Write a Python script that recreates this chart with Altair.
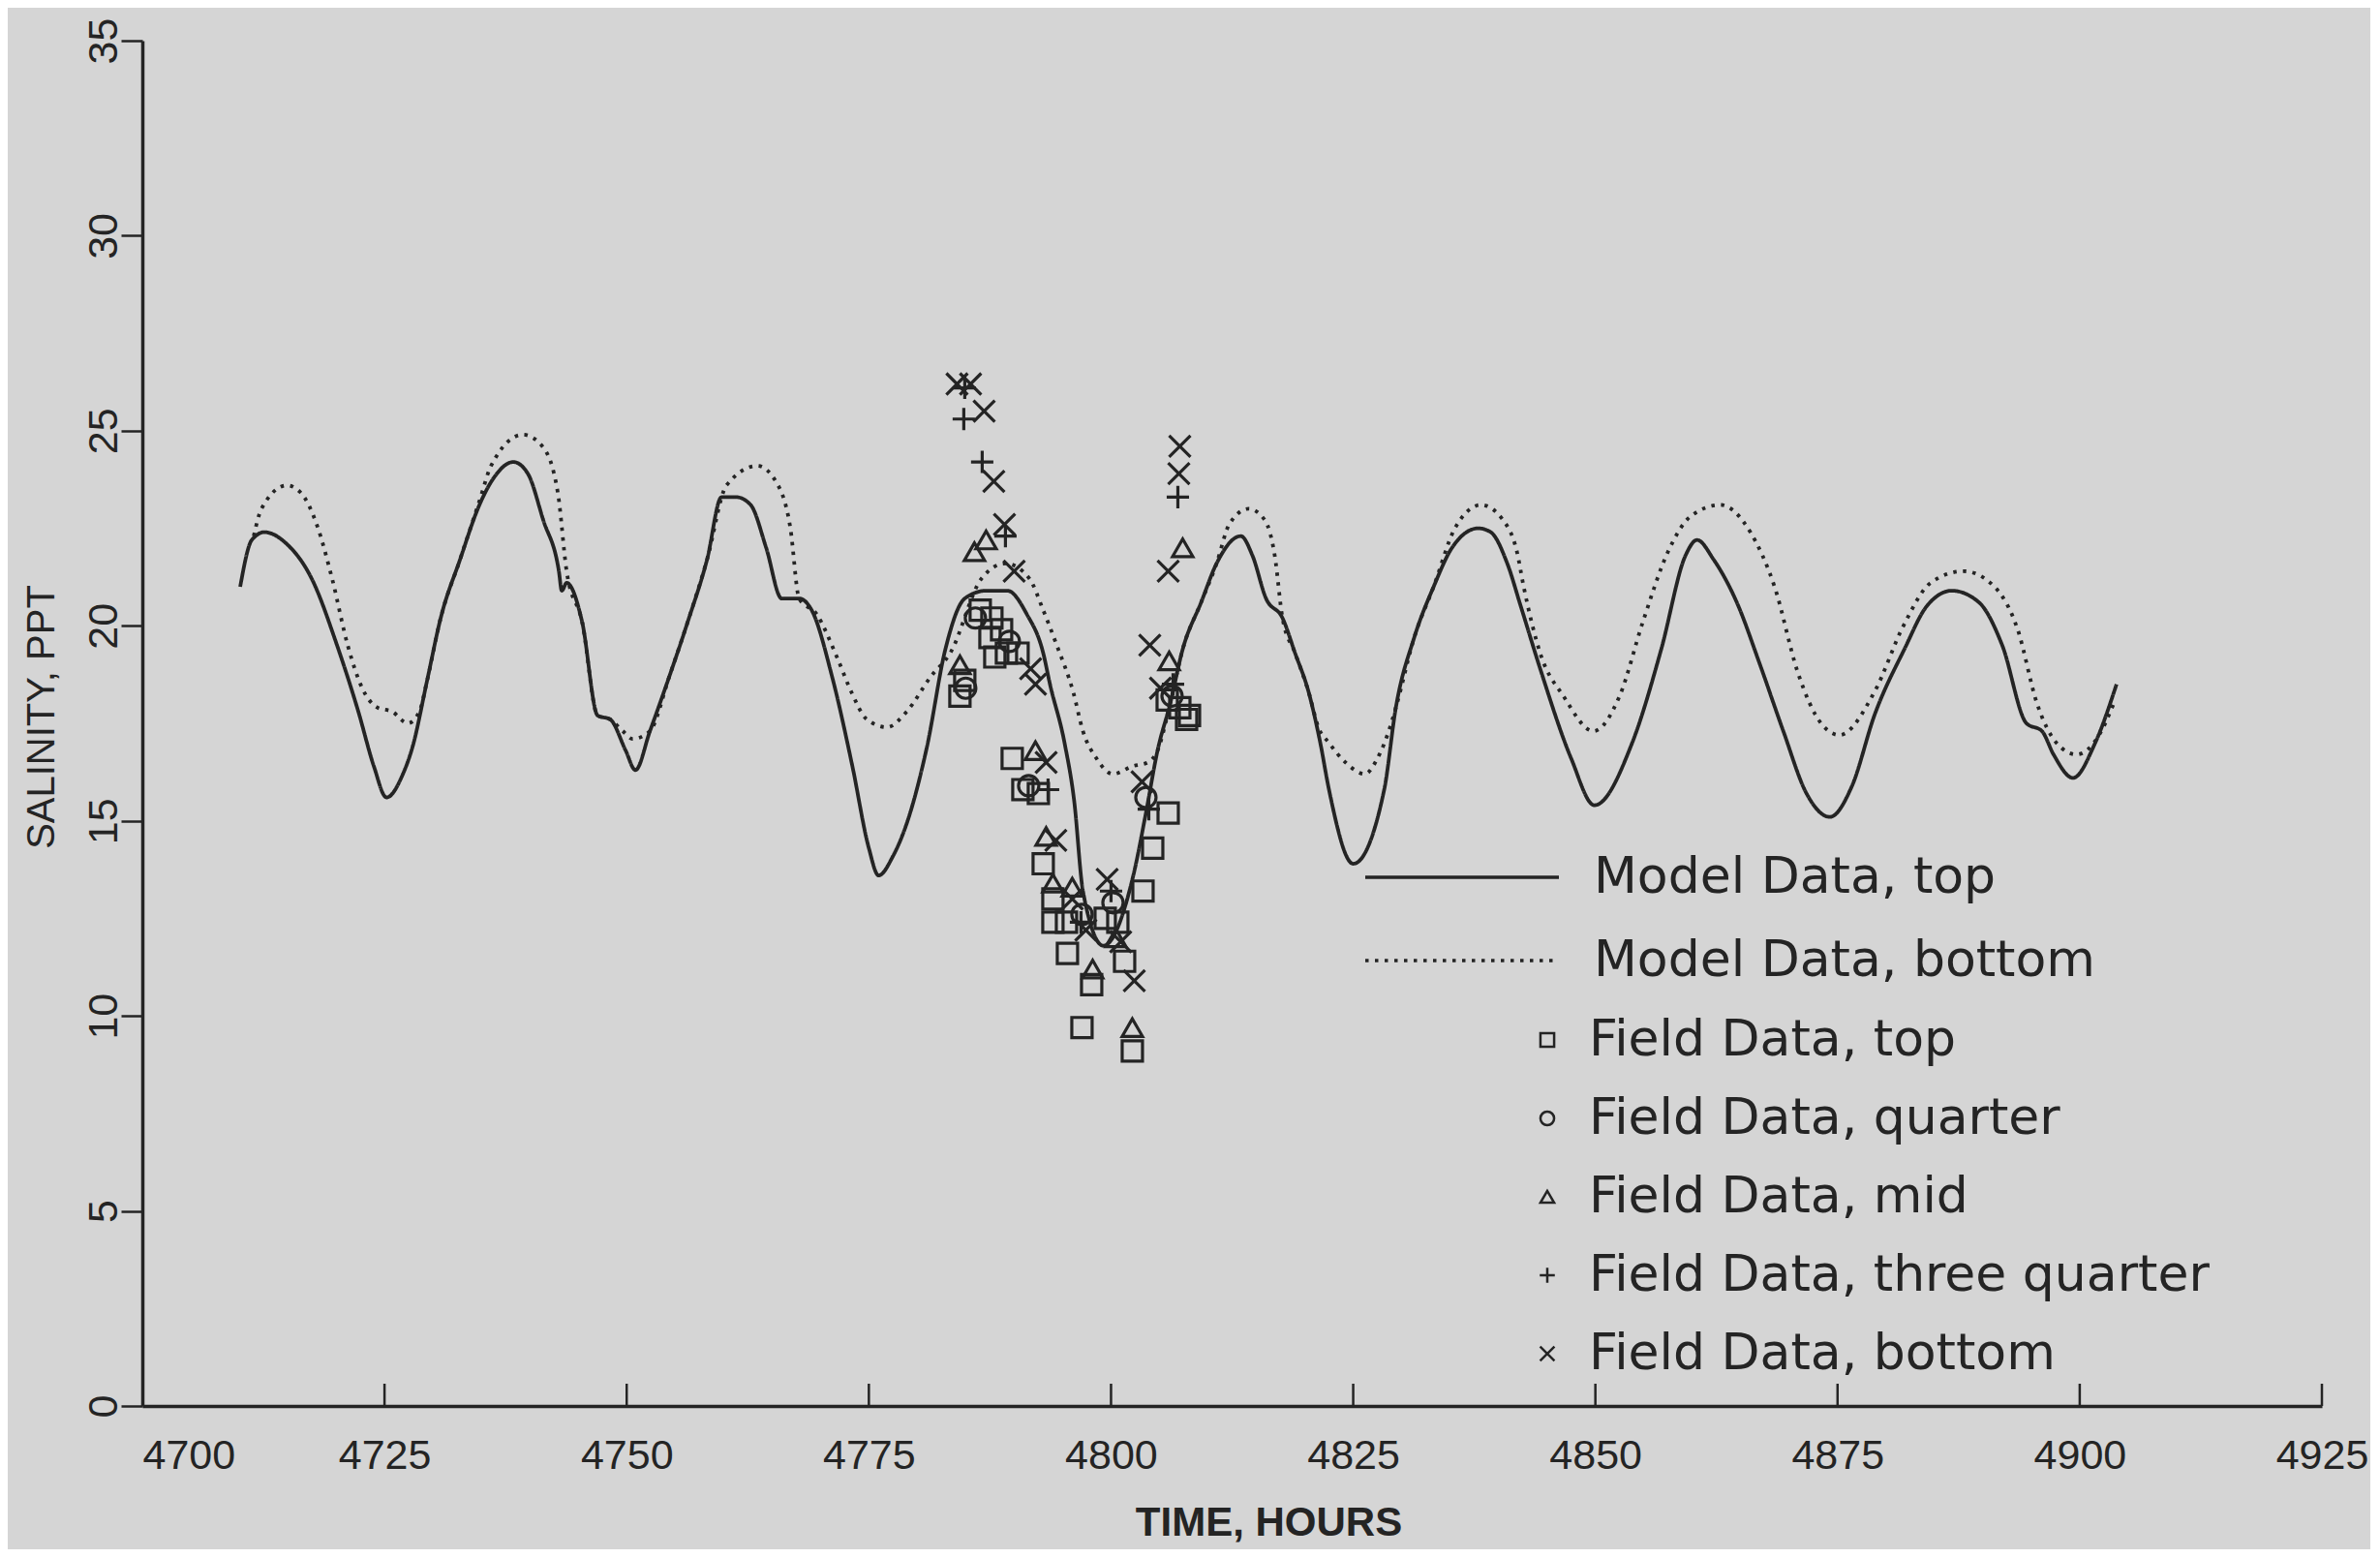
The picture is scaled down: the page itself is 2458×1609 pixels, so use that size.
import altair as alt
import pandas as pd

# ---------------- data ----------------
top_t = [4710.1, 4711.3, 4712.6, 4714.9, 4717.5, 4720.1, 4722.3, 4723.9, 4725.2, 4726.9,
         4727.9, 4729.4, 4730.8, 4732.8, 4734.8, 4736.3, 4738.3, 4739.8, 4741.4, 4743.0,
         4743.3, 4743.8, 4745.4, 4747.0, 4748.3, 4749.9, 4750.9, 4752.4, 4754.4, 4756.3,
         4758.3, 4759.8, 4761.3, 4762.8, 4764.4, 4766.0, 4767.8, 4769.1, 4771.2, 4773.3,
         4775.0, 4776.0, 4777.5, 4779.0, 4781.0, 4782.9, 4784.9, 4787.1, 4789.3, 4791.3,
         4793.0, 4793.7, 4795.2, 4796.2, 4797.1, 4799.2, 4802.3, 4803.6, 4804.8, 4806.1,
         4807.4, 4809.3, 4810.9, 4813.4, 4814.6, 4816.0, 4817.7, 4819.0, 4820.4, 4821.6,
         4822.5, 4825.0, 4828.2, 4829.4, 4831.3, 4833.3, 4835.2, 4837.9, 4839.2, 4840.9,
         4842.3, 4844.3, 4847.5, 4849.9, 4853.8, 4856.8, 4859.3, 4860.5, 4862.2, 4864.6,
         4867.0, 4869.4, 4871.8, 4874.2, 4876.5, 4878.8, 4881.9, 4884.2, 4886.8, 4889.6,
         4892.0, 4894.5, 4896.1, 4897.3, 4899.3, 4901.6, 4903.8]
top_v = [21.0, 22.2, 22.4, 22.1, 21.2, 19.5, 17.8, 16.4, 15.6, 16.2,
         16.9, 18.6, 20.2, 21.7, 23.1, 23.8, 24.2, 23.9, 22.7, 21.4,
         20.9, 21.1, 20.1, 17.7, 17.6, 16.8, 16.3, 17.3, 18.7, 20.1,
         21.7, 23.3, 23.3, 23.1, 22.0, 20.7, 20.7, 20.4, 18.7, 16.4,
         14.3, 13.6, 14.1, 15.0, 16.9, 19.4, 20.7, 20.9, 20.9, 20.3,
         19.3, 18.5, 17.0, 15.5, 13.2, 11.8, 13.6, 15.2, 16.8, 18.0,
         19.4, 20.6, 21.6, 22.3, 21.8, 20.7, 20.2, 19.3, 18.3, 17.0,
         15.8, 13.9, 15.8, 17.9, 19.7, 21.0, 22.0, 22.5, 22.4, 21.6,
         20.5, 18.9, 16.6, 15.4, 17.0, 19.4, 21.8, 22.2, 21.7, 20.6,
         19.0, 17.3, 15.7, 15.1, 15.9, 17.7, 19.4, 20.5, 20.9, 20.6,
         19.5, 17.5, 17.3, 16.7, 16.1, 17.0, 18.5]

bot_t = [4711.5, 4712.3, 4714.9, 4716.4, 4718.0, 4719.6, 4721.2, 4722.7, 4724.3, 4725.8,
         4727.4, 4728.6, 4729.4, 4730.8, 4732.8, 4734.8, 4736.0, 4739.3, 4741.3, 4742.9,
         4743.8, 4745.4, 4747.0, 4748.3, 4749.6, 4750.6, 4752.4, 4754.4, 4756.3, 4758.3,
         4760.3, 4763.5, 4765.4, 4766.9, 4767.8, 4769.6, 4771.7, 4773.2, 4774.8, 4776.9,
         4778.9, 4781.4, 4783.4, 4786.6, 4789.1, 4791.6, 4793.0, 4794.4, 4796.1, 4797.1,
         4798.5, 4800.2, 4802.2, 4803.8, 4804.8, 4806.1, 4807.4, 4809.3, 4810.9, 4812.2,
         4814.2, 4815.9, 4816.9, 4817.7, 4819.0, 4820.4, 4821.4, 4822.5, 4824.2, 4826.2,
         4827.5, 4828.8, 4829.4, 4831.3, 4833.3, 4835.5, 4838.2, 4840.5, 4841.9, 4842.6,
         4844.3, 4846.7, 4849.8, 4852.5, 4854.9, 4857.5, 4859.8, 4862.9, 4866.0, 4868.5,
         4870.9, 4873.3, 4875.2, 4878.8, 4881.8, 4884.6, 4888.0, 4891.2, 4893.6, 4895.6,
         4897.6, 4899.7, 4902.0, 4903.5]
bot_v = [22.3, 23.0, 23.6, 23.4, 22.6, 21.2, 19.5, 18.4, 17.9, 17.8,
         17.5, 17.8, 18.6, 20.2, 21.7, 23.2, 24.1, 24.9, 24.6, 23.4,
         21.4, 20.1, 17.7, 17.6, 17.3, 17.1, 17.3, 18.7, 20.1, 21.7,
         23.6, 24.1, 23.7, 22.5, 20.7, 20.3, 19.2, 18.3, 17.6, 17.4,
         17.8, 18.7, 19.3, 21.2, 21.6, 21.2, 20.4, 19.5, 18.3, 17.3,
         16.6, 16.2, 16.4, 16.5, 16.8, 18.0, 19.4, 20.6, 21.6, 22.6,
         23.0, 22.7, 21.8, 20.2, 19.3, 18.3, 17.4, 17.0, 16.5, 16.2,
         16.6, 17.4, 17.9, 19.7, 21.0, 22.5, 23.1, 22.7, 21.9, 21.0,
         19.3, 18.2, 17.3, 18.2, 20.1, 21.9, 22.8, 23.1, 22.4, 21.0,
         18.8, 17.5, 17.2, 18.3, 20.0, 21.1, 21.4, 21.0, 19.9, 18.0,
         17.0, 16.7, 17.2, 18.0]

# field data: top (squares)
ftop_t = [4784.4, 4784.9, 4786.5, 4787.7, 4788.7, 4787.5, 4789.2, 4790.4, 4788.0, 4789.8,
          4790.9, 4792.5, 4793.0, 4794.0, 4794.0, 4795.4, 4795.5, 4798.0, 4797.0, 4802.2,
          4799.4, 4800.7, 4801.4, 4803.3, 4804.3, 4805.9, 4805.8, 4807.1, 4808.1, 4807.8]
ftop_v = [18.2, 18.6, 20.4, 20.2, 19.9, 19.7, 19.3, 19.3, 19.2, 16.6,
          15.8, 15.7, 13.9, 13.0, 12.4, 12.4, 11.6, 10.8, 9.7, 9.1,
          12.5, 12.4, 11.4, 13.2, 14.3, 15.2, 18.1, 17.9, 17.7, 17.6]
# field data: quarter (circles)
fqtr_t = [4786.0, 4789.5, 4791.5, 4797.0, 4800.2, 4806.3, 4785.0, 4803.6]
fqtr_v = [20.2, 19.6, 15.9, 12.6, 12.9, 18.2, 18.4, 15.6]
# field data: mid (triangles)
fmid_t = [4785.9, 4787.1, 4784.4, 4792.2, 4793.3, 4794.0, 4796.0, 4798.1, 4802.2, 4806.0, 4807.4, 4800.5]
fmid_v = [21.9, 22.2, 19.0, 16.8, 14.6, 13.4, 13.3, 11.2, 9.7, 19.1, 22.0, 12.0]
# field data: three quarter (plus)
f3q_t = [4784.9, 4784.8, 4786.7, 4789.1, 4793.5, 4800.0, 4803.9, 4806.4, 4806.9, 4796.9]
f3q_v = [26.1, 25.3, 24.2, 22.3, 15.8, 13.2, 15.3, 18.5, 23.3, 12.4]
# field data: bottom (x)
fbot_t = [4784.1, 4785.5, 4786.9, 4787.9, 4789.0, 4790.0, 4791.7, 4792.2, 4793.3, 4794.3,
          4796.0, 4797.4, 4799.6, 4801.0, 4802.4, 4803.2, 4804.0, 4805.1, 4805.9, 4807.0, 4807.1]
fbot_v = [26.2, 26.2, 25.5, 23.7, 22.6, 21.4, 18.9, 18.5, 16.5, 14.5,
          13.0, 12.2, 13.5, 11.9, 10.9, 16.0, 19.5, 18.4, 21.4, 23.9, 24.6]

x_ticks = [4700, 4725, 4750, 4775, 4800, 4825, 4850, 4875, 4900, 4925]
y_ticks = [0, 5, 10, 15, 20, 25, 30, 35]

LINE_NAMES = ["Model Data, top", "Model Data, bottom"]
FIELD_NAMES = ["Field Data, top", "Field Data, quarter", "Field Data, mid",
               "Field Data, three quarter", "Field Data, bottom"]

# ---------------- tables ----------------
lines_df = pd.concat([
    pd.DataFrame({"t": top_t, "v": top_v, "series": LINE_NAMES[0]}),
    pd.DataFrame({"t": bot_t, "v": bot_v, "series": LINE_NAMES[1]}),
], ignore_index=True)

points_df = pd.concat([
    pd.DataFrame({"t": ftop_t, "v": ftop_v, "series": FIELD_NAMES[0]}),
    pd.DataFrame({"t": fqtr_t, "v": fqtr_v, "series": FIELD_NAMES[1]}),
    pd.DataFrame({"t": fmid_t, "v": fmid_v, "series": FIELD_NAMES[2]}),
    pd.DataFrame({"t": f3q_t, "v": f3q_v, "series": FIELD_NAMES[3]}),
    pd.DataFrame({"t": fbot_t, "v": fbot_v, "series": FIELD_NAMES[4]}),
], ignore_index=True)

tick_df = pd.DataFrame({"t": x_ticks[1:]})

# ---------------- styling ----------------
W, H = 2251, 1410
INK = "#242424"
BG = "#d5d5d5"
AXIS_FONT = "Liberation Sans"
LEGEND_FONT = "DejaVu Sans"
PLUS = "M-1.1,0L1.1,0M0,-1.1L0,1.1"
CROSS = "M-1.05,-1.05L1.05,1.05M-1.05,1.05L1.05,-1.05"
LEGEND_LINE = "M-5,0L5,0"   # long horizontal sample line for the model legend

xscale = alt.Scale(domain=[4700, 4925], nice=False, zero=False)
yscale = alt.Scale(domain=[0, 35], nice=False, zero=False)

x_axis = alt.Axis(
    values=x_ticks, format="d", ticks=False, tickSize=0, grid=False, labelFlush=False,
    labelPadding=30, labelFont=AXIS_FONT, labelFontSize=43, labelColor=INK,
    labelAlign={"condition": {"test": "datum.value <= 4700", "value": "left"}, "value": "center"},
    domainColor=INK, domainWidth=3.5,
    title="TIME, HOURS", titleFont=AXIS_FONT, titleFontSize=42, titleFontWeight="bold",
    titleColor=INK, titleX=1163, titleY=133, titleAlign="center", titleBaseline="alphabetic",
)
y_axis = alt.Axis(
    values=y_ticks, tickSize=22, tickWidth=2.5, tickColor=INK, grid=False, labelFlush=False,
    labelAngle=270, labelAlign="center", labelBaseline="alphabetic", labelPadding=5,
    labelFont=AXIS_FONT, labelFontSize=43, labelColor=INK,
    domainColor=INK, domainWidth=3.5,
    title="SALINITY, PPT", titleFont=AXIS_FONT, titleFontSize=40, titleFontWeight="normal",
    titleColor=INK, titleAngle=270, titleX=-92, titleY=698, titleAlign="center",
    titleBaseline="alphabetic",
)

line_legend = alt.Legend(
    orient="none", legendX=1337, legendY=838, title=None, padding=0,
    symbolType=LEGEND_LINE, symbolSize=1600, symbolStrokeWidth=3.5, symbolStrokeColor=INK,
    symbolFillColor="transparent",
    labelFont=LEGEND_FONT, labelFontSize=52, labelColor=INK, labelOffset=110, rowPadding=34,
    labelLimit=1200,
)
shape_legend = alt.Legend(
    orient="none", legendX=1425, legendY=1006, title=None, padding=0,
    symbolSize=200, symbolStrokeWidth=2.5, symbolStrokeColor=INK, symbolFillColor="transparent",
    labelFont=LEGEND_FONT, labelFontSize=52, labelColor=INK, labelOffset=17, rowPadding=29,
    labelLimit=1200,
)

lines = alt.Chart(lines_df).mark_line(
    color=INK, strokeWidth=3.8, strokeCap="butt", strokeJoin="round", interpolate="monotone"
).encode(
    x=alt.X("t:Q", scale=xscale, axis=x_axis),
    y=alt.Y("v:Q", scale=yscale, axis=y_axis),
    strokeDash=alt.StrokeDash("series:N", scale=alt.Scale(domain=LINE_NAMES, range=[[1, 0], [3.5, 6.5]]),
                              legend=line_legend),
)

points = alt.Chart(points_df).mark_point(
    filled=False, strokeWidth=3.2, color=INK, opacity=1, size=440
).encode(
    x=alt.X("t:Q", scale=xscale),
    y=alt.Y("v:Q", scale=yscale),
    shape=alt.Shape("series:N", scale=alt.Scale(domain=FIELD_NAMES,
                    range=["square", "circle", "triangle-up", PLUS, CROSS]), legend=shape_legend),
)

ticks = alt.Chart(tick_df).mark_rule(color=INK, strokeWidth=2.5).encode(
    x=alt.X("t:Q", scale=xscale),
    y=alt.value(H),
    y2=alt.value(H - 23),
)

chart = alt.layer(lines, points, ticks).properties(
    width=W, height=H,
    autosize=alt.AutoSizeParams(type="none"),
    padding={"left": 139, "top": 34, "right": 50, "bottom": 148},
    background=BG,
).configure_view(stroke=None)

chart.save("out.html", embed_options={"renderer": "svg", "actions": False})
